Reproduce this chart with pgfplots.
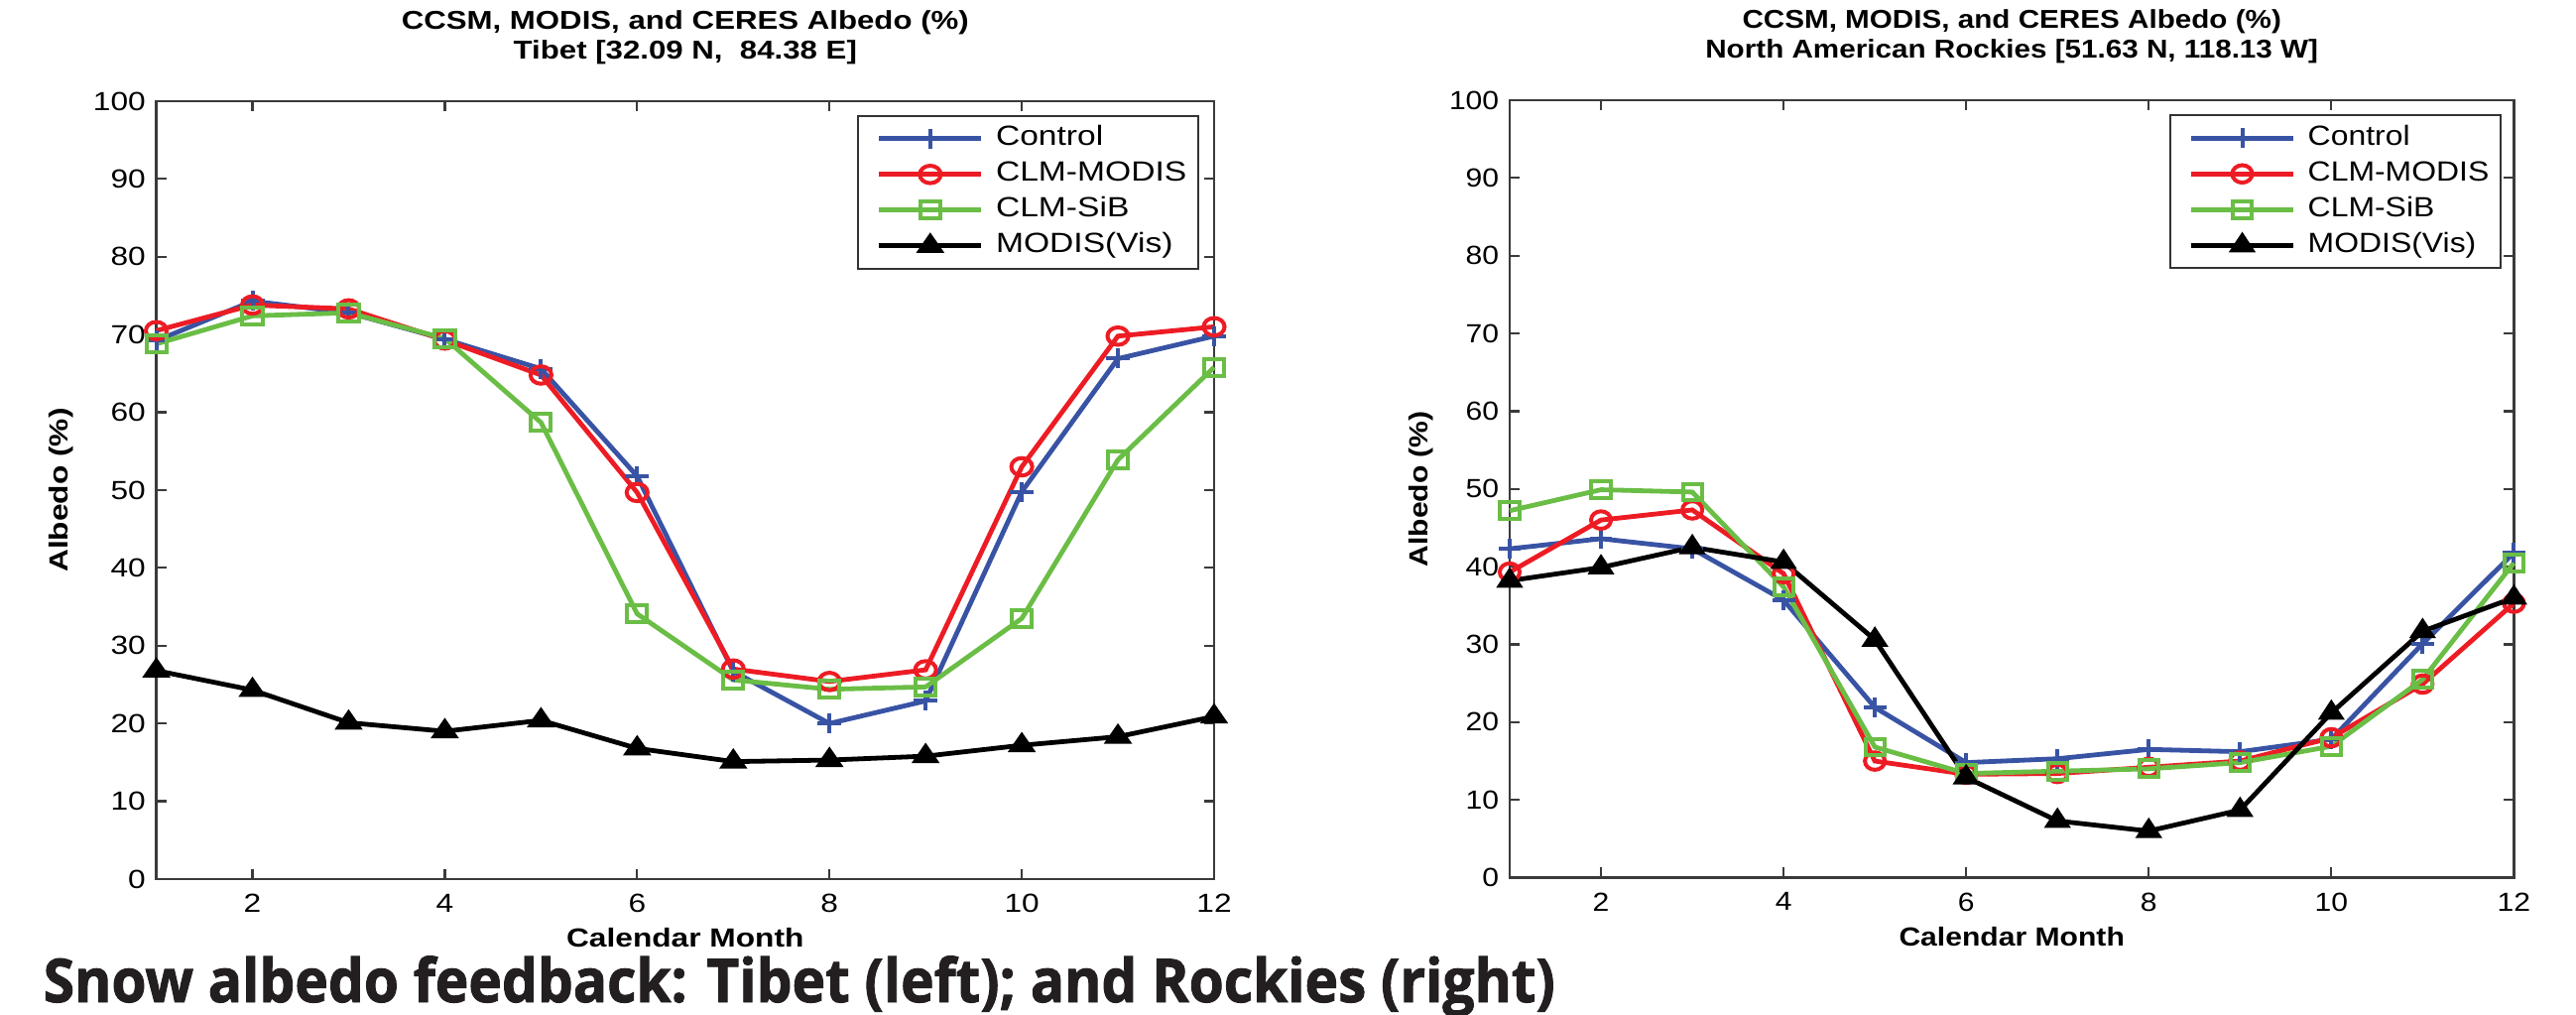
\documentclass[border=0pt]{standalone}
\usepackage{pgfplots}
\pgfplotsset{compat=1.18}
\usepackage{fontspec}
\usepackage{graphicx}
\setmainfont{Liberation Sans}[FakeStretch=1.2]
\newfontfamily\rfont{Liberation Sans}[FakeStretch=1.14]
\newfontfamily\capfont{Open Sans}[BoldFeatures={FakeBold=1.6}]
\definecolor{cblue}{HTML}{3953A4}
\definecolor{cred}{HTML}{ED1C24}
\definecolor{cgreen}{HTML}{6ABD45}
\definecolor{axgray}{HTML}{3A3A3A}
\definecolor{capcol}{HTML}{231F20}
\pgfplotsset{
 albedo/.style={
  scale only axis, xmin=1, xmax=12, ymin=0, ymax=100,
  xtick={2,4,...,12}, ytick={0,10,...,100},
  tick align=inside, major tick length=2.6bp,
  axis line style={draw=axgray, line width=0.55bp},
  every tick/.style={draw=axgray, line width=0.55bp},
  /pgf/number format/assume math mode=true,
  ticklabel style={font=#1\fontsize{6.6bp}{7bp}\selectfont, inner sep=0pt},
  xticklabel style={yshift=-3.6bp},
  yticklabel style={xshift=-2.5bp},
  xlabel style={at={(axis description cs:0.5,-0.0753)}, anchor=center, font=#1\bfseries\fontsize{6.6bp}{7bp}\selectfont},
  ylabel style={anchor=center, font=#1\bfseries\fontsize{6.6bp}{7bp}\selectfont},
  title style={at={(axis description cs:0.5,1)}, anchor=south, inner sep=0pt, yshift=3.1bp, align=center, font=#1\bfseries\fontsize{6.5bp}{7.5bp}\selectfont},
  clip=false,
  legend cell align=left,
  legend style={anchor=north east, draw=black!80, line width=0.5bp, inner xsep=3bp, inner ysep=2.2bp, column sep=3.1bp, row sep=2bp, font=#1\fontsize{7bp}{8bp}\selectfont, nodes={inner sep=0pt, text height=5.2bp, text depth=1.8bp}},
  legend image code/.code={\path (-1.7bp,0bp); \draw[mark repeat=2,mark phase=2,##1] plot coordinates {(0bp,0bp) (12.85bp,0bp) (25.7bp,0bp)};},
  every axis plot/.append style={line width=1.2bp},
 },
 sctrl/.style={color=cblue, mark=+, mark size=2.5bp, mark options={solid, line width=1bp, xscale=#1}},
 smod/.style={color=cred, mark=o, mark size=2.2bp, mark options={solid, line width=1bp, xscale=#1}},
 ssib/.style={color=cgreen, mark=square, mark size=2.1bp, mark options={solid, line width=1bp, xscale=#1}},
 svis/.style={color=black, mark=triangle*, mark size=2.7bp, mark options={solid, line width=0.8bp, xscale=#1}},
}
\begin{document}
\begin{tikzpicture}
\useasboundingbox (0,0) rectangle (649.25bp,255.75bp);
\begin{axis}[albedo={\rmfamily}, at={(39.4bp,34.25bp)}, anchor=south west,
  width=266.6bp, height=196bp,
  xlabel={Calendar Month}, ylabel={Albedo (\%)},
  ylabel style={at={(axis description cs:-0.0895,0.5)}},
  title={CCSM, MODIS, and CERES Albedo (\%)\\Tibet [32.09 N,\ \ 84.38 E]},
  legend style={at={(axis description cs:0.9862,0.9821)}}]
\addplot[sctrl=1.2] coordinates {(1,69.2) (2,74.3) (3,72.8) (4,69.4) (5,65.6) (6,51.8) (7,26.7) (8,20.0) (9,22.9) (10,49.8) (11,66.9) (12,69.8)};
\addplot[smod=1.2] coordinates {(1,70.5) (2,73.8) (3,73.3) (4,69.3) (5,64.8) (6,49.7) (7,27.0) (8,25.4) (9,26.9) (10,53.0) (11,69.8) (12,71.0)};
\addplot[ssib=1.2] coordinates {(1,68.8) (2,72.4) (3,72.8) (4,69.5) (5,58.7) (6,34.1) (7,25.6) (8,24.4) (9,24.7) (10,33.5) (11,53.9) (12,65.8)};
\addplot[svis=1.2] coordinates {(1,26.8) (2,24.3) (3,20.1) (4,19.0) (5,20.4) (6,16.8) (7,15.1) (8,15.3) (9,15.8) (10,17.2) (11,18.3) (12,20.9)};
\legend{Control, CLM-MODIS, CLM-SiB, MODIS(Vis)}
\end{axis}
\begin{axis}[albedo={\rfont}, at={(380.5bp,34.6bp)}, anchor=south west,
  width=253.1bp, height=195.9bp,
  xlabel={Calendar Month}, ylabel={Albedo (\%)},
  ylabel style={at={(axis description cs:-0.0886,0.5)}},
  title={CCSM, MODIS, and CERES Albedo (\%)\\North American Rockies [51.63 N, 118.13 W]},
  legend style={at={(axis description cs:0.9881,0.9815)}}]
\addplot[sctrl=1.14] coordinates {(1,42.3) (2,43.6) (3,42.3) (4,35.7) (5,21.9) (6,14.8) (7,15.3) (8,16.5) (9,16.2) (10,17.8) (11,30.1) (12,41.8)};
\addplot[smod=1.14] coordinates {(1,39.3) (2,46.0) (3,47.3) (4,39.1) (5,15.0) (6,13.3) (7,13.4) (8,14.2) (9,15.0) (10,18.0) (11,24.9) (12,35.3)};
\addplot[ssib=1.14] coordinates {(1,47.2) (2,49.9) (3,49.6) (4,37.4) (5,16.8) (6,13.4) (7,13.7) (8,14.0) (9,14.8) (10,16.9) (11,25.5) (12,40.5)};
\addplot[svis=1.14] coordinates {(1,38.2) (2,39.9) (3,42.5) (4,40.6) (5,30.6) (6,12.9) (7,7.3) (8,6.0) (9,8.7) (10,21.2) (11,31.7) (12,36.0)};
\legend{Control, CLM-MODIS, CLM-SiB, MODIS(Vis)}
\end{axis}
\node[anchor=base west, inner sep=0pt, text=capcol] at (10.75bp,3.25bp) {\resizebox{381bp}{\height}{\capfont\bfseries\fontsize{15.2bp}{16bp}\selectfont Snow albedo feedback: Tibet (left); and Rockies (right)}};
\end{tikzpicture}
\end{document}
